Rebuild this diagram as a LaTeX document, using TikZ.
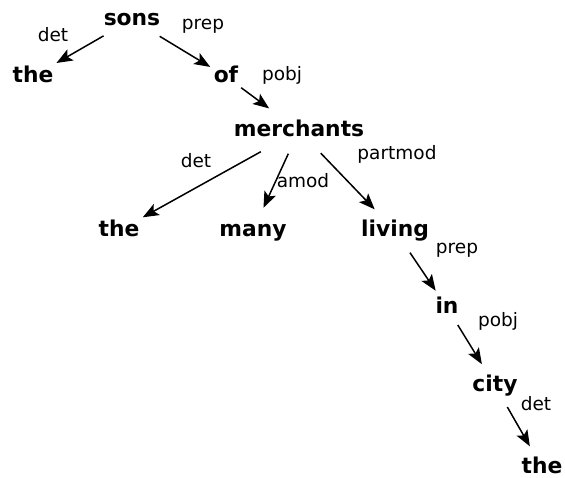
\documentclass[tikz,border=0pt]{standalone}
\usepackage{fontspec}
\setmainfont{DejaVu Sans}
\usetikzlibrary{arrows.meta,shapes.geometric}

\tikzset{
  word/.style={ellipse, anchor=base, inner xsep=0pt, inner ysep=6pt, outer sep=0pt,
    text height=16pt, text depth=5pt, font=\fontsize{21.8}{25}\selectfont\bfseries},
  deplabel/.style={anchor=base, inner sep=0pt, font=\fontsize{18.5}{22}\selectfont},
  dep/.style={-{Stealth[length=16pt,width=12.5pt,inset=3.5pt]}, line width=1.5pt},
}

\begin{document}
\begin{tikzpicture}[x=1pt,y=1pt,yscale=-1,xscale=1]
\useasboundingbox (0,0) rectangle (565,477);

% Words
\node[word] (sons) at (132,25) {sons};
\node[word] (theA) at (33,82) {the};
\node[word] (of) at (226,82) {of};
\node[word] (merchants) at (299,136) {merchants};
\node[word] (theB) at (119,236) {the};
\node[word] (many) at (253,236) {many};
\node[word] (living) at (395,236) {living};
\node[word] (in) at (447,313) {in};
\node[word] (city) at (495,391) {city};
\node[word] (theC) at (542,473) {the};

% Dependencies
\draw[dep] (sons) -- (theA);
\draw[dep] (sons) -- (of);
\draw[dep] (of) -- (merchants);
\draw[dep] (merchants) -- (theB);
\draw[dep] (merchants) -- (many);
\draw[dep] (merchants) -- (living);
\draw[dep] (living) -- (in);
\draw[dep] (in) -- (city);
\draw[dep] (city) -- (theC);

% Labels
\node[deplabel] (lbl-det1) at (53,41) {det};
\node[deplabel] (lbl-prep1) at (203,29) {prep};
\node[deplabel] (lbl-pobj1) at (282,80) {pobj};
\node[deplabel] (lbl-det2) at (196,167) {det};
\node[deplabel] (lbl-amod) at (303,187) {amod};
\node[deplabel] (lbl-partmod) at (397,159) {partmod};
\node[deplabel] (lbl-prep2) at (457,253) {prep};
\node[deplabel] (lbl-pobj2) at (498,326) {pobj};
\node[deplabel] (lbl-det3) at (536,410) {det};

\end{tikzpicture}
\end{document}
